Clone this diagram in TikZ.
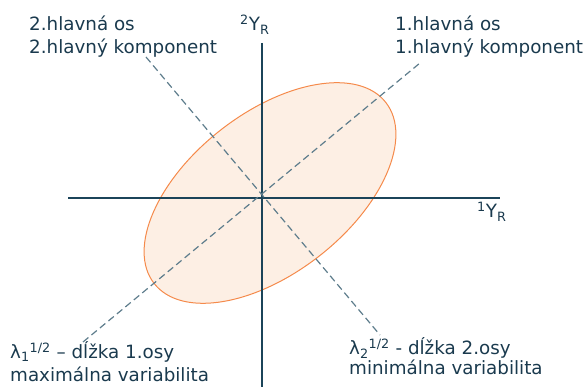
\documentclass[tikz,border=0pt]{standalone}
\usepackage{fontspec}
\setmainfont{DejaVu Sans}
\usetikzlibrary{positioning}
\definecolor{axisblue}{HTML}{1B4459}
\definecolor{dashgray}{HTML}{5E7D8C}
\definecolor{ellfill}{HTML}{FDEFE4}
\definecolor{ellline}{HTML}{F58A4B}
\definecolor{txtblue}{HTML}{1A3A4E}

\begin{document}
\begin{tikzpicture}[
    x=1pt, y=-1pt,
    axis/.style={draw=axisblue, line width=1.4pt},
    pcaxis/.style={draw=dashgray, line width=1.2pt, dash pattern=on 7pt off 4pt},
    lbl/.style={inner sep=0pt, anchor=base west, align=left, text=txtblue, font=\fontsize{18.3}{23.6}\selectfont}
]
\useasboundingbox (0,0) rectangle (587,387);

% elipsa
\draw[fill=ellfill, draw=ellline, line width=1pt, rotate around={38:(270,193)}]
    (270,193) ellipse [x radius=147, y radius=80];

% osi
\coordinate (xl) at (68,198);
\coordinate (xr) at (500,198);
\coordinate (yt) at (262,43);
\coordinate (yb) at (262,387);
\draw[axis] (xl) -- (xr);
\draw[axis] (yt) -- (yb);

% hlavné osi
\coordinate (p1a) at (83,342);
\coordinate (p1b) at (420,63);
\coordinate (p2a) at (146,57);
\coordinate (p2b) at (380,335);
\draw[pcaxis] (p1a) -- (p1b);
\draw[pcaxis] (p2a) -- (p2b);

% popisy osí
\node[lbl] (ylbl) at (240,31) {\textsuperscript{2}Y\textsubscript{R}};
\node[lbl] (xlbl) at (477,218) {\textsuperscript{1}Y\textsubscript{R}};

% popisy hlavných osí (base = posledný riadok)
\node[lbl] (ax2) at (29,54) {2.hlavná os\\2.hlavný komponent};
\node[lbl] (ax1) at (395,54) {1.hlavná os\\1.hlavný komponent};

% vlastné čísla
\node[lbl] (lam1) at (10,382) {λ\textsubscript{1}\textsuperscript{1/2} – dĺžka 1.osy\\maximálna variabilita};
\node[lbl, font=\fontsize{18.3}{20.5}\selectfont] (lam2) at (349,375) {λ\textsubscript{2}\textsuperscript{1/2} - dĺžka 2.osy\\minimálna variabilita};

\end{tikzpicture}
\end{document}
